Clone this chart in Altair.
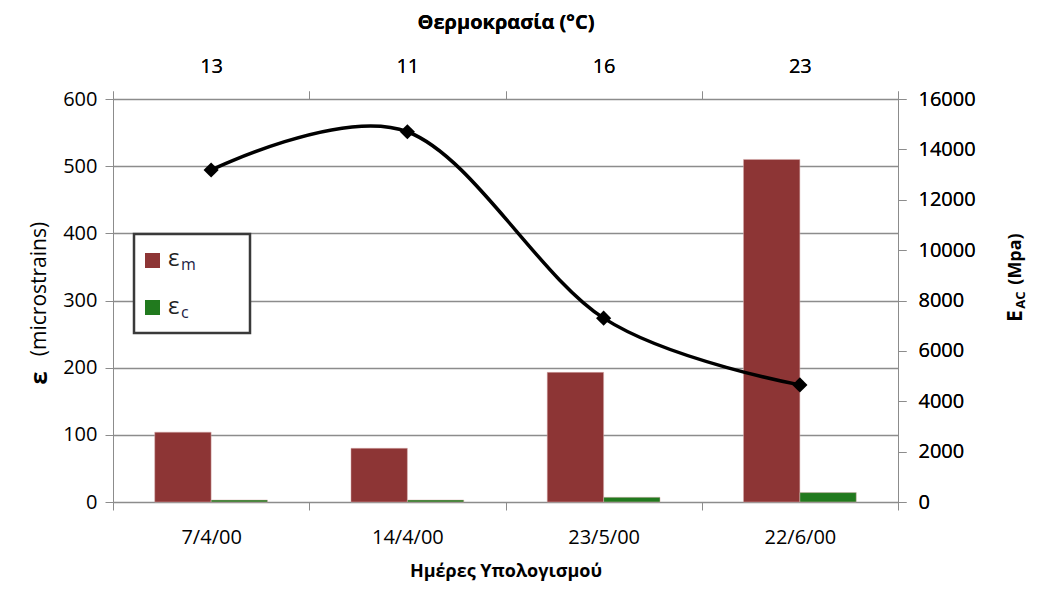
import altair as alt
import pandas as pd

dates = ["7/4/00", "14/4/00", "23/5/00", "22/6/00"]
temps = ["13", "11", "16", "23"]
eps_m = [104, 80, 193, 510]
eps_c = [3, 3, 7, 14]
e_ac = [13180, 14700, 7300, 4650]

FONT = "Open Sans"
RED = "#8D3535"
GREEN = "#217A1E"
GRID = "#8C8C8C"

W, H = 785, 403

bars_df = pd.DataFrame({
    "date": dates * 2,
    "series": ["em"] * 4 + ["ec"] * 4,
    "value": eps_m + eps_c,
})
line_df = pd.DataFrame({"date": dates, "E": e_ac, "temp": temps})

temp_map = "{" + ",".join(f"'{d}':'{t}'" for d, t in zip(dates, temps)) + "}"

xscale = alt.Scale(domain=dates, paddingInner=0, paddingOuter=0)

bars = alt.Chart(bars_df).mark_bar(stroke="#d9b0b0", strokeWidth=0.5).encode(
    x=alt.X("date:N", scale=xscale, sort=dates,
            axis=alt.Axis(title="Ημέρες Υπολογισμού", labelAngle=0, tickBand="extent",
                          titleFontWeight="bold", titleFontSize=18, titlePadding=15,
                          labelFontSize=20, labelPadding=17, tickSize=8,
                          domainColor=GRID, tickColor=GRID, labelColor="black")),
    xOffset=alt.XOffset("series:N", sort=["em", "ec"],
                        scale=alt.Scale(paddingInner=0, paddingOuter=0.74)),
    y=alt.Y("value:Q", scale=alt.Scale(domain=[0, 600]),
            axis=alt.Axis(title=None, values=list(range(0, 601, 100)), grid=True,
                          gridColor=GRID, gridWidth=1.5, domainColor=GRID, tickColor=GRID,
                          tickSize=8, labelFontSize=20, labelPadding=8, labelColor="black")),
    color=alt.Color("series:N", scale=alt.Scale(domain=["em", "ec"], range=[RED, GREEN]),
                    legend=None),
)

line_enc = dict(
    x=alt.X("date:N", scale=xscale, sort=dates,
            axis=alt.Axis(orient="top", title="Θερμοκρασία (°C)", labelAngle=0,
                          tickBand="extent", labelExpr=f"{temp_map}[datum.value]",
                          titleFontWeight="bold", titleFontSize=20, titlePadding=24,
                          labelFontSize=20, labelPadding=15, tickSize=8,
                          domainColor=GRID, tickColor=GRID, labelColor="black")),
    y=alt.Y("E:Q", scale=alt.Scale(domain=[0, 16000]),
            axis=alt.Axis(orient="right", title=None, values=list(range(0, 16001, 2000)),
                          format="d", grid=False, domainColor=GRID, tickColor=GRID,
                          tickSize=8, labelFontSize=20, labelPadding=12,
                          labelColor="black")),
)
line = alt.Chart(line_df).mark_line(interpolate="cardinal", color="black",
                                     strokeWidth=3.5).encode(**line_enc)
pts = alt.Chart(line_df).mark_point(shape="diamond", filled=True, color="black",
                                     size=230, opacity=1).encode(**line_enc)

one = pd.DataFrame({"a": [0]})
def txt(s, x, y, size=20, weight="normal", angle=0, align="center", color="black"):
    return alt.Chart(one).mark_text(text=s, font=FONT, fontSize=size, fontWeight=weight,
                                    angle=angle, align=align, baseline="middle",
                                    color=color).encode(x=alt.value(x), y=alt.value(y))

left_title = [
    txt("ε", -73, 279, size=24, weight="bold", angle=270),
    txt("(microstrains)", -73, 190, size=21, angle=270),
]
right_title = [
    txt("E", 903, 217, size=21, weight="bold", angle=270),
    txt("AC", 908, 201, size=13, weight="bold", angle=270),
    txt("(Mpa)", 903, 160, size=18, weight="bold", angle=270),
]
legend_box = alt.Chart(one).mark_rect(fill="white", stroke="#3a3a3a", strokeWidth=2.5).encode(
    x=alt.value(21), x2=alt.value(137), y=alt.value(135), y2=alt.value(234))
leg_items = [
    alt.Chart(one).mark_rect(color=RED).encode(x=alt.value(32), x2=alt.value(47),
                                                y=alt.value(154), y2=alt.value(169)),
    alt.Chart(one).mark_rect(color=GREEN).encode(x=alt.value(32), x2=alt.value(47),
                                                  y=alt.value(201), y2=alt.value(216)),
    txt("ε", 55, 160, size=24, align="left", color="#222222"),
    txt("m", 68, 166, size=16, align="left", color="#222244"),
    txt("ε", 55, 208, size=24, align="left", color="#222222"),
    txt("c", 68, 214, size=16, align="left", color="#222244"),
]

chart = alt.layer(
    bars, line, pts, legend_box, *leg_items, *left_title, *right_title
).resolve_scale(y="independent").resolve_axis(x="independent", y="independent").properties(
    width=W, height=H,
    autosize=alt.AutoSizeParams(type="none"),
    padding={"left": 105, "top": 91, "right": 132, "bottom": 80},
).configure(font=FONT).configure_view(stroke=None).configure_axis(
    labelFont=FONT, titleFont=FONT, titleColor="black"
)

chart.save("out.html", embed_options={"renderer": "svg", "actions": False})
